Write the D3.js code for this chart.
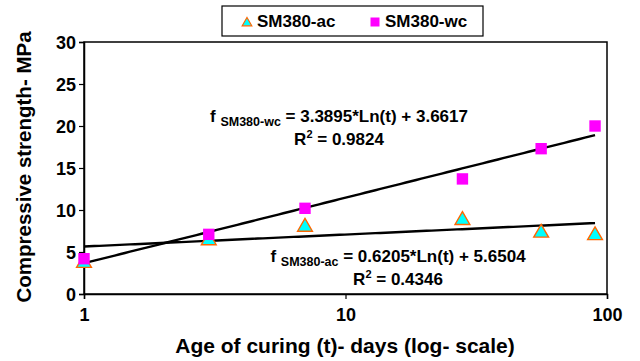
<!DOCTYPE html>
<html>
<head>
<meta charset="utf-8">
<script src="https://cdn.jsdelivr.net/npm/d3@7"></script>
<style>
  html, body { margin: 0; padding: 0; background: #fff; }
  svg { display: block; font-family: "Liberation Sans", Arial, sans-serif; font-weight: bold; }
</style>
</head>
<body>
<svg id="chart" width="640" height="361"></svg>
<script>
// Curing ages (days) and compressive strengths (MPa)
const ages = [1, 3, 7, 28, 56, 90];
const strengthAc = [3.8, 6.5, 8.1, 8.9, 7.4, 7.1];
const strengthWc = [4.2, 7.1, 10.2, 13.7, 17.3, 20.0];
const seriesNames = ["SM380-ac", "SM380-wc"];
// Logarithmic fits: f = a*Ln(t) + b
const fitAc = { a: 0.6205, b: 5.6504, r2: "0.4346" };
const fitWc = { a: 3.3895, b: 3.6617, r2: "0.9824" };
const xTicks = [1, 10, 100];
const yTicks = [0, 5, 10, 15, 20, 25, 30];

const svg = d3.select("#chart");
const m = { left: 84, right: 607, top: 42, bottom: 294 };

const x = d3.scaleLog().domain([1, 100]).range([m.left, m.right]);
const y = d3.scaleLinear().domain([0, 30]).range([m.bottom, m.top]);

// plot frame
svg.append("rect")
  .attr("x", m.left).attr("y", m.top)
  .attr("width", m.right - m.left).attr("height", m.bottom - m.top)
  .attr("fill", "none").attr("stroke", "#000").attr("stroke-width", 1.5);

// axes
const yAxis = svg.append("g")
  .attr("transform", `translate(${m.left},0)`)
  .call(d3.axisLeft(y).tickValues(yTicks).tickSize(5).tickPadding(3));
const xAxis = svg.append("g")
  .attr("transform", `translate(0,${m.bottom})`)
  .call(d3.axisBottom(x).tickValues(xTicks).tickFormat(d3.format("d")).tickSize(5).tickPadding(9));
[xAxis, yAxis].forEach(g => {
  g.select(".domain").attr("stroke", "#000").attr("stroke-width", 1.5);
  g.selectAll(".tick line").attr("stroke", "#000").attr("stroke-width", 1.2);
  g.selectAll("text").attr("fill", "#000")
    .style("font-family", "'Liberation Sans', Arial, sans-serif")
    .style("font-weight", "bold").style("font-size", "18px");
});
yAxis.selectAll(".tick text").attr("dy", "0.36em");

// axis titles
svg.append("text")
  .attr("x", 345).attr("y", 353)
  .attr("text-anchor", "middle").style("font-size", "21px")
  .text("Age of curing (t)- days (log- scale)");
svg.append("text")
  .attr("transform", "translate(31,167) rotate(-90)")
  .attr("text-anchor", "middle").style("font-size", "20.5px")
  .text("Compressive strength- MPa");

// trend lines over the measured age range
const tLine = d3.range(0, 101).map(i => Math.pow(90, i / 100));
const line = d3.line().x(d => x(d[0])).y(d => y(d[1]));
[fitWc, fitAc].forEach(f => {
  svg.append("path")
    .datum(tLine.map(t => [t, f.a * Math.log(t) + f.b]))
    .attr("d", line).attr("fill", "none")
    .attr("stroke", "#000").attr("stroke-width", 2.4);
});

// markers
const tri = d3.symbol().type(d3.symbolTriangle).size(95);
const sq = d3.symbol().type(d3.symbolSquare).size(130);
svg.append("g").selectAll("path")
  .data(ages.map((t, i) => [t, strengthAc[i]]))
  .join("path")
  .attr("d", tri)
  .attr("transform", d => `translate(${x(d[0])},${y(d[1]) + 1})`)
  .attr("fill", "#00FFFF").attr("stroke", "#FF6600").attr("stroke-width", 1.4);
svg.append("g").selectAll("path")
  .data(ages.map((t, i) => [t, strengthWc[i]]))
  .join("path")
  .attr("d", sq)
  .attr("transform", d => `translate(${x(d[0])},${y(d[1])})`)
  .attr("fill", "#FF00FF");

// equation labels
function equation(xc, yc, sub, f) {
  const t = svg.append("text").attr("x", xc).attr("y", yc)
    .attr("text-anchor", "middle").style("font-size", "17px");
  t.append("tspan").text("f ");
  t.append("tspan").attr("dy", 4).style("font-size", "12.5px").text(sub);
  t.append("tspan").attr("dy", -4).text(` = ${f.a}*Ln(t) + ${f.b}`);
  const r = svg.append("text").attr("x", xc).attr("y", yc + 23)
    .attr("text-anchor", "middle").style("font-size", "17px");
  r.append("tspan").text("R");
  r.append("tspan").attr("dy", -7).style("font-size", "11px").text("2");
  r.append("tspan").attr("dy", 7).text(` = ${f.r2}`);
}
equation(339, 122, seriesNames[1], fitWc);
equation(398, 262, seriesNames[0], fitAc);

// legend
const lg = svg.append("g");
lg.append("rect").attr("x", 222).attr("y", 6).attr("width", 261).attr("height", 30)
  .attr("fill", "#fff").attr("stroke", "#000").attr("stroke-width", 1.2);
lg.append("path").attr("d", d3.symbol().type(d3.symbolTriangle).size(40))
  .attr("transform", "translate(247,23)")
  .attr("fill", "#00FFFF").attr("stroke", "#FF6600").attr("stroke-width", 1.2);
lg.append("text").attr("x", 257).attr("y", 27).style("font-size", "17px").text(seriesNames[0]);
lg.append("path").attr("d", d3.symbol().type(d3.symbolSquare).size(81))
  .attr("transform", "translate(375,22)").attr("fill", "#FF00FF");
lg.append("text").attr("x", 385).attr("y", 27).style("font-size", "17px").text(seriesNames[1]);
</script>
</body>
</html>
